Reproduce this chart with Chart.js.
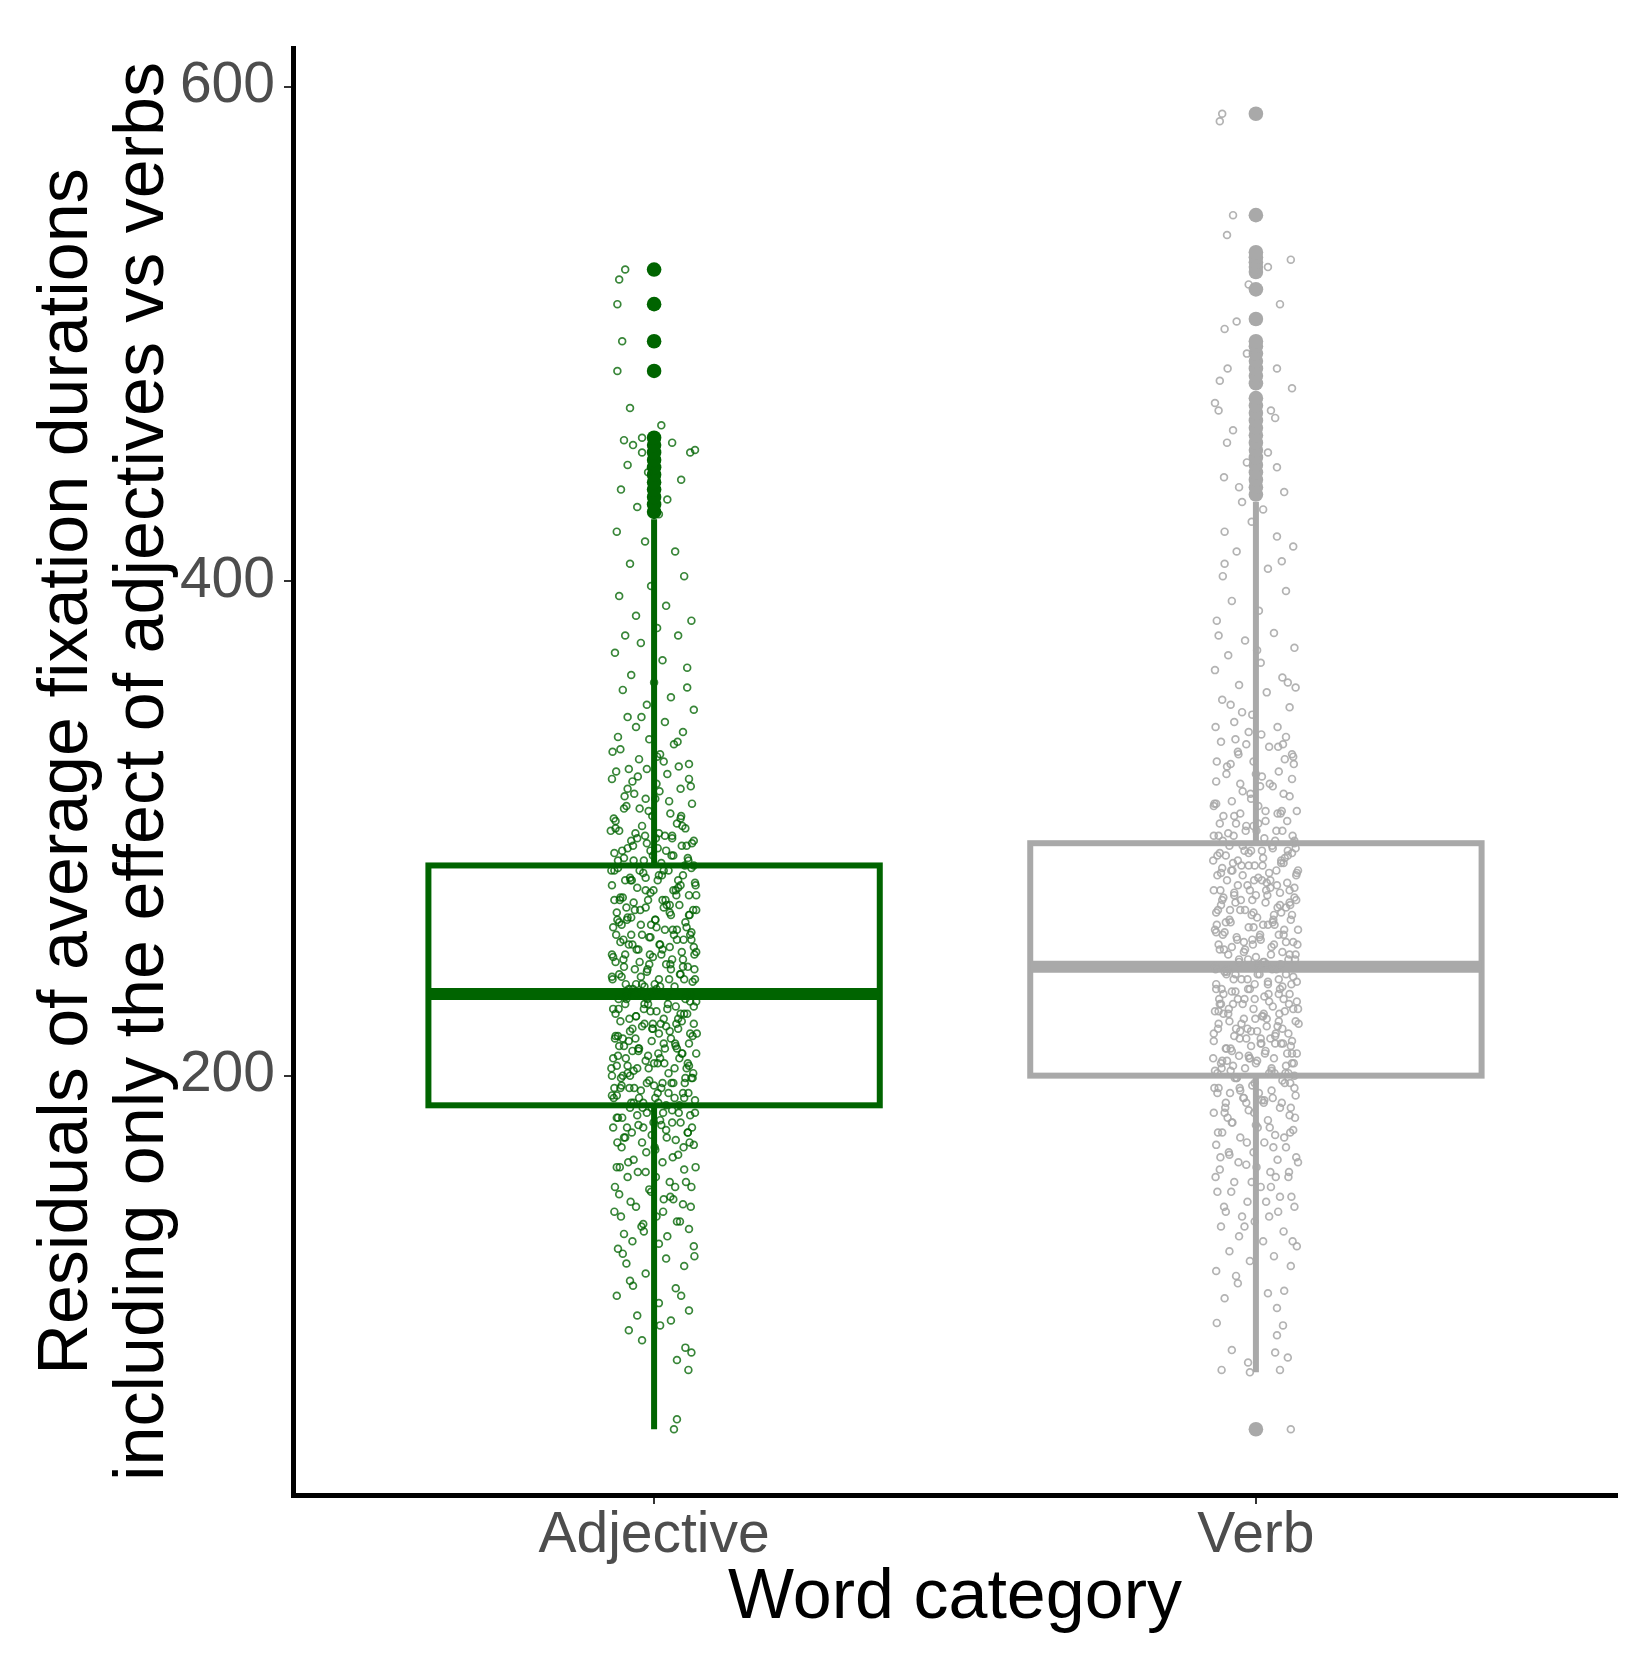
<!DOCTYPE html>
<html>
<head>
<meta charset="utf-8">
<script src="https://cdn.jsdelivr.net/npm/chart.js@4"></script>
<style>
  html, body { margin: 0; padding: 0; background: #ffffff; }
  #chart { display: block; }
</style>
</head>
<body>
<canvas id="chart" width="1633" height="1665"></canvas>
<script>
// boxplot + jitter of fixation duration residuals

const categories = ['Adjective', 'Verb'];
const yTicks = [200, 400, 600];

// box statistics per category
const whiskerLow = [57, 80];
const quartile1 = [188, 200];
const medians = [233, 244];
const quartile3 = [285, 294];
const whiskerHigh = [425, 432];

const adjectiveOutliers = [428, 431, 434, 437, 440, 443, 446, 449, 452, 455, 458, 485, 497, 512, 526];
const verbOutliers = [57, 435, 438, 441, 444, 447, 450, 453, 456, 459, 462, 465, 468, 471, 474,
    480, 483, 486, 489, 492, 495, 497, 506, 518, 525, 527, 529, 531, 533, 548, 589];

// jittered observations: [horizontal offset in thousandths of a category, value]
const adjectivePoints = [
    [-48,526],[-61,512],[-53,497],[-61,485],[-58,522],[-40,470],[12,463],[-20,458],
    [-50,457],[-35,455],[-20,452],[30,456],[60,452],[-44,447],[-10,444],[45,441],[-55,437],[22,433],[-28,430],[8,427],[68,453],
    [-62,420],[-15,416],[35,412],[-40,407],[50,402],[-5,398],[-58,394],[20,390],[-30,386],[62,384],[5,381],[-48,378],
    [40,378],[-22,375],[-65,371],[14,368],[55,365],[-38,362],[0,359],[-52,356],[28,353],[-12,350],[66,348],[-44,345],[18,343],[-30,341],[48,339],[-60,337],
    [-8,336],[33,334],[-56,332],[10,330],[-25,328],[58,326],[-42,324],[22,322],[-70,320],[4,318],[44,316],[-33,314],
    [-14,312],[63,310],[-50,308],[27,306],[-3,305],[-64,303],[38,302],[-20,301],[52,300],[-46,309],[16,327],[-36,319],
    [-58,299],[8,298],[30,297],[-28,296],[66,295],[-12,294],[46,293],[-44,292],[20,291],[-66,290],[-2,289],[56,288],[-34,287],[12,286],
    [-60,284],[24,283],[-18,282],[48,281],[-40,280],[6,279],[68,278],[-70,277],[-28,276],[36,275],[-6,274],[58,273],[-52,272],
    [14,271],[-34,270],[42,269],[-14,268],[70,267],[-62,266],[28,265],[-44,264],[2,263],[52,262],[-22,261],[-68,260],[18,259],
    [62,258],[-38,257],[-8,256],[38,255],[-56,254],[10,253],[66,252],[-26,251],[46,250],[-48,249],[-2,248],[30,247],[-64,246],
    [20,245],[56,244],[-32,243],[-12,242],[44,241],[-54,240],[8,239],[64,238],[-20,237],[34,236],[-42,235],[-4,234],[54,233],
    [-66,283],[40,279],[-10,271],[26,266],[-58,262],[60,257],[-36,253],[12,249],[-50,244],[50,239],[-16,236],[32,275],
    [-46,268],[4,260],[70,250],[-24,246],[16,283],[-70,240],
    [22,232],[-46,231],[60,230],[-10,229],[36,228],[-68,227],[4,226],[50,225],[-30,224],[16,223],[-56,222],[66,221],[-20,220],
    [40,219],[-40,218],[8,217],[-64,216],[28,215],[-4,214],[58,213],[-50,212],[18,211],[-26,210],[70,209],[-60,208],[42,207],
    [-14,206],[0,205],[-44,204],[54,203],[-34,202],[24,201],[-70,200],[62,199],[-8,198],[32,197],[-54,196],[12,195],[-22,194],
    [48,193],[-62,192],[2,191],[68,190],[-38,189],[20,188],
    [-48,229],[44,225],[-16,221],[64,216],[-58,212],[10,207],[-28,203],[52,199],[-66,195],[34,191],
    [-6,226],[26,218],[-36,210],[56,205],[-52,200],[6,193],[70,230],[-42,214],[14,197],[-18,189],
    [46,222],[-62,204],[38,211],[-2,219],[-30,233],
    [-40,187],[30,186],[-12,185],[60,184],[-60,183],[10,182],[44,181],[-26,180],[-68,179],[20,178],[56,177],[-4,176],
    [-48,175],[36,174],[-20,173],[66,172],[-54,171],[2,170],[40,168],[-34,166],[14,165],[-62,163],[50,162],[-14,161],
    [-44,159],[26,157],[62,155],[-8,154],[-58,152],[16,150],[48,148],[-30,147],[-66,145],[4,143],
    [38,141],[-18,140],[58,138],[-50,136],[22,135],[-36,133],[8,132],[66,131],[-60,130],[32,150],
    [-52,128],[20,126],[50,123],[-14,120],[-40,117],[36,114],[-62,111],[8,108],[58,105],[-28,103],[28,101],[-46,124],
    [38,85],[57,81],[38,61],[33,57],[52,90],[62,88],[-42,97],[-20,93],[10,99],
    [-69,331],[5,329],[41,325],[-27,321],[61,317],[-49,313],[25,311],[-9,307],[-67,304],[47,301],
    [-31,298],[3,296],[63,294],[-53,291],[29,289],[-17,287],[51,285],[-71,283],[13,281],[-37,279],
    [69,277],[-1,275],[37,273],[-57,271],[21,269],[-23,267],[59,265],[-45,263],[-5,261],[31,259],
    [-63,257],[49,255],[9,253],[-29,251],[67,249],[-51,247],[27,245],[-11,243],[43,241],[-69,239],
    [1,237],[-35,235],[61,233],[-59,231],[23,229],[-17,227],[55,225],[-41,223],[11,221],[-3,219],
    [71,217],[-65,215],[35,213],[-25,211],[47,209],[-47,207],[17,205],[-9,203],[65,201],[-55,199],
    [29,197],[-33,195],[57,193],[-67,191],[7,189],[-19,187],[41,185],[-53,183],[-1,181],[63,179],
    [-37,177],[21,175],[-61,173],[49,171],[-13,169],[31,167],[-43,165],[69,163],[-27,161],[3,159],
    [53,157],[-65,155],[-5,153],[27,151],[-39,149],[61,147],[15,145],[-55,143],[43,141],[-21,139],
    [-47,237],[67,243],[-7,249],[33,257],[-61,263],[19,271],[-39,279],[57,287],[-15,297],[45,305],
    [-59,227],[37,221],[-31,215],[7,209],[-71,203],[51,197],[-25,191],[15,185],[-45,179],[59,173],
    [-11,231],[25,239],[-51,255],[65,267],[-35,293],[9,315],[-63,323],[39,335],[-21,345],[55,357],
    [-41,195],[1,171],[-57,163],[35,155],[-17,137],[67,127],[-35,115],[45,111],
    [-72,299],[18,297],[-38,295],[54,293],[-6,291],[32,289],[-60,287],[66,285],[-24,283],[8,281],
    [-48,279],[44,277],[-14,275],[70,273],[-66,271],[26,269],[-32,267],[58,265],[2,263],[-54,261],
    [38,259],[-20,257],[62,255],[-42,253],[14,251],[-70,249],[48,247],[-8,245],[28,243],[-58,241],
    [68,239],[-30,237],[4,235],[-46,233],[52,231],[-16,229],[22,227],[-64,225],[40,223],[-2,221],
    [-36,219],[60,217],[-52,215],[16,213],[-26,211],[46,209],[-68,207],[6,205],[34,203],[-44,201],
    [64,199],[-12,197],[-56,195],[24,193],[50,191],[-34,189],[-4,187],[68,185],[-62,183],[30,181],
    [-18,179],[56,177],[-50,175],[12,180],[-28,184],[42,188],[-70,192],[0,196],[-40,200],[58,204],
    [-10,208],[36,212],[-60,216],[20,220],[-30,224],[66,228],[-46,232],[10,236],[-22,240],[48,244],
    [-68,248],[26,252],[-6,256],[54,260],[-38,264],[16,268],[-56,272],[40,276],[-14,280],[62,284],
    [-50,288],[6,292],[30,296],[-64,300],[44,304],[-24,308],[2,312],[-44,316],[58,320],[-12,324]
];

const verbPoints = [
    [-56,589],[-38,548],[58,530],[20,527],[-32,505],[-60,586],[-48,540],[-12,520],[40,512],[-52,502],
    [-15,492],[-47,486],[-60,481],[35,486],[-68,472],[-62,469],[25,469],[-38,461],[-48,456],[20,452],[-15,448],[35,446],
    [-53,442],[-28,438],[47,436],[60,478],
    [32,466],[-7,424],[12,429],[-52,420],[35,418],[62,414],[-32,412],[-52,407],[20,405],[43,408],[-55,402],[-23,432],
    [50,396],[-40,392],[5,388],[-65,384],
    [30,379],[-18,376],[64,373],[-46,370],[8,367],[-68,364],[44,361],[-28,358],[18,355],[-56,352],[56,349],[-6,346],
    [-36,343],[36,341],[-62,378],[2,372],[66,357],[-42,350],
    [-12,339],[50,337],[-58,335],[22,333],[-30,331],[62,329],[-4,327],[-48,325],[38,323],[10,321],[-66,319],[28,317],
    [-22,315],[56,313],[-40,311],[4,309],[68,307],[-54,305],[16,303],[-16,301],[44,299],[-70,297],[32,295],[-34,336],
    [60,320],[-8,312],[-60,302],[48,328],[-26,306],[14,296],
    [-44,293],[28,292],[-8,291],[60,290],[-64,289],[12,288],[-30,287],[46,286],[-2,285],[-56,284],[34,283],[68,282],
    [-22,281],[4,280],[-48,279],[52,278],[-14,277],[24,276],[-70,275],[40,274],[-36,273],[64,272],[-6,271],[16,270],
    [-58,269],[50,268],[-26,267],[-66,266],[30,265],[2,264],[58,263],[-42,262],[20,261],[-12,260],[70,259],[-52,258],
    [38,257],[-32,256],[8,255],[62,254],[-62,253],[26,252],[-18,251],[44,250],[-46,249],[0,248],[54,247],[-28,246],
    [18,245],[-68,244],
    [66,292],[-38,286],[10,279],[-54,272],[42,266],[-4,260],[-20,254],[56,249],
    [-60,290],[22,282],[-10,275],[36,268],[-50,262],[6,256],[48,288],[-34,270],
    [-24,285],[14,246],[64,276],[-40,252],
    [34,243],[-52,242],[6,241],[62,240],[-24,239],[20,238],[-66,237],[44,236],[-10,235],[-40,234],[56,233],[14,232],
    [-30,231],[68,230],[-58,229],[28,228],[-4,227],[48,226],[-46,225],[10,224],[-20,223],[66,222],[-62,221],[36,220],
    [-14,219],[2,218],[54,217],[-36,216],[24,215],[-70,214],[42,213],[-8,212],[-50,211],[16,210],[60,209],[-28,208],
    [30,207],[-56,206],[0,205],[50,204],[-18,203],[-42,202],[22,201],[64,200],
    [-34,241],[40,235],[-60,229],[12,224],[-26,218],[58,212],[-48,206],[26,202],
    [-2,237],[46,231],[-68,226],[18,220],[-16,215],[52,209],[-38,204],[4,244],
    [70,227],[-54,233],[32,216],[-12,208],[-64,201],[38,239],[8,213],[-44,222],[60,205],[-22,229],
    [-32,199],[48,197],[-6,196],[-62,195],[26,194],[66,192],[-20,191],[10,190],[-50,189],[40,187],[-12,186],[-70,185],
    [56,184],[20,182],[-40,181],[0,180],[62,178],[-56,177],[32,176],[-26,175],[14,173],[-66,172],[50,171],[-4,169],
    [-44,168],[36,166],[70,165],[-16,164],[-60,162],[24,161],
    [54,159],[-36,157],[8,155],[-64,153],[40,151],[-14,149],[64,147],[-50,145],[22,143],[-2,141],
    [-58,139],[46,137],[-28,135],[12,133],[68,131],[-44,129],[30,127],[-10,125],[58,123],[-66,121],
    [-65,100],[35,106],[45,99],[35,95],[-40,89],[32,88],[53,86],[-13,84],[-57,81],[40,81],[-10,80],[-30,116],[20,112],[-52,110],
    [58,57],
    [-67,341],[9,338],[45,334],[-29,330],[63,326],[-49,322],[23,318],[-9,314],[-69,310],[41,306],
    [-33,302],[1,299],[61,297],[-55,295],[27,293],[-19,291],[53,289],[-71,287],[11,285],[-39,283],
    [67,281],[-3,279],[35,277],[-59,275],[19,273],[-25,271],[57,269],[-43,267],[-7,265],[29,263],
    [-65,261],[47,259],[7,257],[-31,255],[69,253],[-53,251],[25,249],[-13,247],[41,245],[-67,243],
    [3,241],[-37,239],[59,237],[-57,235],[21,233],[-19,231],[55,229],[-45,227],[13,225],[-1,223],
    [71,221],[-63,219],[33,217],[-27,215],[45,213],[-49,211],[15,209],[-11,207],[63,205],[-57,203],
    [31,201],[-35,199],[57,197],[-69,195],[5,193],[-21,191],[43,189],[-51,187],[-3,185],[65,183],
    [-39,181],[23,179],[-63,177],[47,175],[-15,173],[29,171],[-45,169],[67,167],[-29,165],[1,163],
    [55,161],[-67,159],[-7,157],[25,155],[-41,153],[59,151],[17,149],[-53,147],[37,145],[-23,143],
    [-49,241],[65,247],[-5,253],[31,261],[-63,267],[17,275],[-41,283],[53,291],[-17,299],[43,307],
    [-61,231],[39,225],[-33,219],[9,213],[-71,207],[49,201],[-27,195],[13,189],[-47,183],[57,177],
    [-13,235],[27,243],[-55,257],[67,271],[-37,297],[7,317],[-65,327],[37,333],[-23,347],[53,359],
    [-43,193],[3,179],[-59,167],[33,159],[-19,139],[61,133],[-33,119],[47,113],
    [-70,309],[16,307],[-36,305],[52,303],[-4,301],[34,299],[-62,297],[64,295],[-22,293],[10,291],
    [-50,289],[42,287],[-12,285],[70,283],[-64,281],[24,279],[-30,277],[56,275],[0,273],[-56,271],
    [40,269],[-18,267],[60,265],[-44,263],[12,261],[-68,259],[46,257],[-6,255],[30,253],[-60,251],
    [66,249],[-28,247],[6,245],[-48,243],[50,241],[-14,239],[20,237],[-66,235],[38,233],[-2,231],
    [-38,229],[62,227],[-54,225],[18,223],[-24,221],[44,219],[-70,217],[8,215],[32,213],[-42,211],
    [68,209],[-10,207],[-58,205],[26,203],[54,201],[-32,199],[-2,197],[64,195],[-64,193],[28,191],
    [-16,189],[58,187],[-52,185],[14,190],[-26,194],[44,198],[-68,202],[2,206],[-40,210],[60,214],
    [-8,218],[38,222],[-62,226],[22,230],[-34,234],[68,238],[-48,242],[12,246],[-20,250],[50,254],
    [-66,258],[28,262],[-4,266],[56,270],[-36,274],[18,278],[-58,282],[42,286],[-12,290],[64,294],
    [-46,298],[4,302],[36,306],[-66,310],[46,314],[-26,318],[0,322],[-42,326],[60,330],[-16,334]
];

const BOX_WIDTH = 0.75;
const FONT = '"Liberation Sans", Arial, sans-serif';
const lineColors = ['#006400', '#A9A9A9'];
const jitterColors = ['rgba(0, 100, 0, 0.78)', 'rgba(169, 169, 169, 0.88)'];

function jitterData(points, pos) {
    return points.map(p => ({ x: pos + p[0] / 1000, y: p[1] }));
}

function outlierData(values, pos) {
    return values.map(v => ({ x: pos, y: v }));
}

// draws the boxes and whiskers from the scale positions
const boxPlotPlugin = {
    id: 'boxPlot',
    beforeDatasetsDraw(chart) {
        const ctx = chart.ctx;
        const x = chart.scales.x;
        const y = chart.scales.y;
        ctx.save();
        categories.forEach((cat, i) => {
            const pos = i + 1;
            const cx = x.getPixelForValue(pos);
            const left = x.getPixelForValue(pos - BOX_WIDTH / 2);
            const right = x.getPixelForValue(pos + BOX_WIDTH / 2);
            const yQ1 = y.getPixelForValue(quartile1[i]);
            const yQ3 = y.getPixelForValue(quartile3[i]);
            const yMed = y.getPixelForValue(medians[i]);

            ctx.strokeStyle = lineColors[i];
            ctx.lineWidth = 6;
            ctx.beginPath();
            ctx.moveTo(cx, y.getPixelForValue(whiskerHigh[i]));
            ctx.lineTo(cx, yQ3);
            ctx.moveTo(cx, yQ1);
            ctx.lineTo(cx, y.getPixelForValue(whiskerLow[i]));
            ctx.stroke();

            ctx.strokeRect(left, yQ3, right - left, yQ1 - yQ3);

            ctx.lineWidth = 12;
            ctx.beginPath();
            ctx.moveTo(left, yMed);
            ctx.lineTo(right, yMed);
            ctx.stroke();
        });
        ctx.restore();
    }
};

new Chart(document.getElementById('chart'), {
    type: 'scatter',
    data: {
        datasets: [
            {
                data: jitterData(adjectivePoints, 1),
                pointRadius: 3.4,
                pointBorderWidth: 1.7,
                pointBackgroundColor: 'rgba(0,0,0,0)',
                pointBorderColor: jitterColors[0],
                order: 0
            },
            {
                data: jitterData(verbPoints, 2),
                pointRadius: 3.4,
                pointBorderWidth: 1.7,
                pointBackgroundColor: 'rgba(0,0,0,0)',
                pointBorderColor: jitterColors[1],
                order: 0
            },
            {
                data: outlierData(adjectiveOutliers, 1),
                pointRadius: 7.3,
                pointBorderWidth: 0,
                pointBackgroundColor: lineColors[0],
                order: 1
            },
            {
                data: outlierData(verbOutliers, 2),
                pointRadius: 7.3,
                pointBorderWidth: 0,
                pointBackgroundColor: lineColors[1],
                order: 1
            }
        ]
    },
    options: {
        responsive: false,
        animation: false,
        events: [],
        layout: { padding: { top: 48, right: 16, left: 0, bottom: 0 } },
        plugins: {
            legend: { display: false },
            tooltip: { enabled: false }
        },
        scales: {
            x: {
                type: 'linear',
                min: 0.4,
                max: 2.6,
                afterBuildTicks: axis => { axis.ticks = categories.map((c, i) => ({ value: i + 1 })); },
                afterFit: axis => { axis.height = 170; },
                grid: { display: true, drawOnChartArea: false, drawTicks: true, tickLength: 9, color: '#333333', lineWidth: 2 },
                border: { display: true, color: '#000000', width: 5 },
                ticks: {
                    autoSkip: false,
                    maxRotation: 0,
                    padding: 4,
                    color: '#4D4D4D',
                    font: { family: FONT, size: 57, lineHeight: 1 },
                    callback: v => categories[v - 1]
                },
                title: {
                    display: true,
                    text: 'Word category',
                    color: '#000000',
                    font: { family: FONT, size: 70, lineHeight: 1 },
                    padding: { top: 0, bottom: 31 }
                }
            },
            y: {
                type: 'linear',
                min: 30.4,
                max: 615.6,
                afterBuildTicks: axis => { axis.ticks = yTicks.map(v => ({ value: v })); },
                afterFit: axis => { axis.width = 293; },
                grid: { display: true, drawOnChartArea: false, drawTicks: true, tickLength: 9, color: '#333333', lineWidth: 2 },
                border: { display: true, color: '#000000', width: 5 },
                ticks: {
                    padding: 9,
                    color: '#4D4D4D',
                    font: { family: FONT, size: 57 }
                },
                title: {
                    display: true,
                    text: ['Residuals of average fixation durations', 'including only the effect of adjectives vs verbs'],
                    color: '#000000',
                    font: { family: FONT, size: 70, lineHeight: 76 / 70 },
                    padding: { top: 30, bottom: 0 }
                }
            }
        }
    },
    plugins: [boxPlotPlugin]
});
</script>
</body>
</html>
